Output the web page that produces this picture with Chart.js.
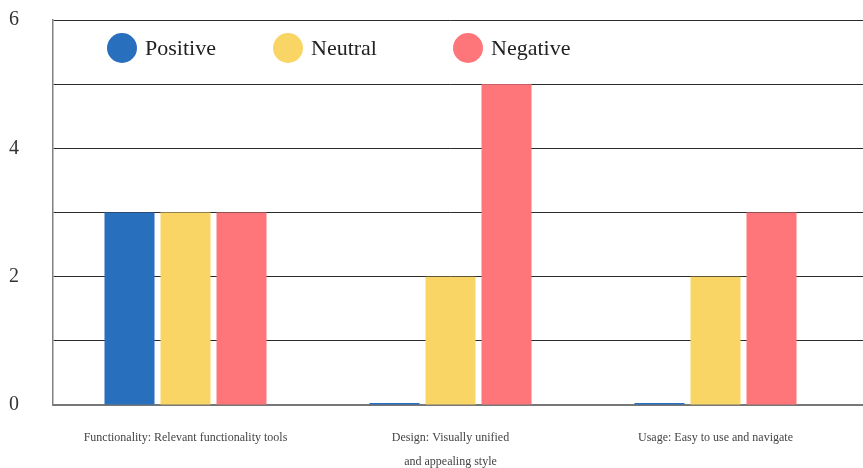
<!DOCTYPE html>
<html>
<head>
<meta charset="utf-8">
<title>Feedback chart</title>
<script src="https://cdn.jsdelivr.net/npm/chart.js@4.4.1/dist/chart.umd.min.js"></script>
<style>
    html, body { margin: 0; padding: 0; background: #fff; }
    #chart { display: block; }
</style>
</head>
<body>
<canvas id="chart" width="863" height="468"></canvas>
<script>
// Chart data
const categories = [
    'Functionality: Relevant functionality tools',
    ['Design: Visually unified', 'and appealing style'],
    'Usage: Easy to use and navigate'
];
const seriesNames = ['Positive', 'Neutral', 'Negative'];
const positive = [3, 0, 0];
const neutral = [3, 2, 2];
const negative = [3, 5, 3];
const yLabels = [0, 2, 4, 6];

const colors = ['#286fbe', '#f9d565', '#ff767a'];
const serif = '"Liberation Serif", "DejaVu Serif", serif';
const legendColumns = [54, 220, 400]; // offsets from the plot's left edge

// Legend drawn inside the plot, between the 6 and 5 lines
const legendInPlot = {
    id: 'legendInPlot',
    afterDraw(chart) {
        const { ctx, chartArea } = chart;
        const y = chartArea.top + 28;
        ctx.save();
        ctx.font = '22px ' + serif;
        ctx.textBaseline = 'middle';
        chart.data.datasets.forEach((ds, i) => {
            const x = chartArea.left + legendColumns[i];
            ctx.fillStyle = ds.backgroundColor;
            ctx.beginPath();
            ctx.arc(x + 15, y, 15, 0, Math.PI * 2);
            ctx.fill();
            ctx.fillStyle = '#222';
            ctx.fillText(ds.label, x + 38, y + 1);
        });
        ctx.restore();
    }
};

// Grid lines run on to the right edge of the picture
const gridToEdge = {
    id: 'gridToEdge',
    beforeDatasetsDraw(chart) {
        const { ctx, chartArea, scales } = chart;
        const y = scales.y;
        ctx.save();
        ctx.strokeStyle = '#2b2b2b';
        ctx.lineWidth = 1;
        y.ticks.forEach(t => {
            if (t.value === 0) return;
            const py = Math.round(y.getPixelForValue(t.value) - 0.5) + 0.5;
            ctx.beginPath();
            ctx.moveTo(chartArea.right, py);
            ctx.lineTo(chart.width, py);
            ctx.stroke();
        });
        ctx.beginPath();
        ctx.strokeStyle = '#777';
        ctx.lineWidth = 2;
        ctx.moveTo(chartArea.right, chartArea.bottom);
        ctx.lineTo(chart.width, chartArea.bottom);
        ctx.stroke();
        ctx.restore();
    }
};

const seriesData = [positive, neutral, negative];

new Chart(document.getElementById('chart'), {
    type: 'bar',
    data: {
        labels: categories,
        datasets: seriesNames.map((name, i) => ({
            label: name,
            data: seriesData[i],
            backgroundColor: colors[i],
            borderWidth: 0,
            minBarLength: 2,
            categoryPercentage: 0.634,
            barPercentage: 0.893
        }))
    },
    options: {
        responsive: false,
        animation: false,
        layout: { padding: { top: 20, right: 15, left: 9, bottom: 0 } },
        plugins: {
            tooltip: { enabled: false },
            legend: { display: false }
        },
        scales: {
            x: {
                grid: { display: false, drawTicks: false },
                border: { display: true, color: '#777', width: 2 },
                ticks: {
                    color: '#444',
                    padding: 21,
                    maxRotation: 0,
                    autoSkip: false,
                    font: { family: serif, size: 12, lineHeight: 2 }
                },
                afterFit(scale) { scale.height = 63; }
            },
            y: {
                min: 0,
                max: 6,
                grid: {
                    drawTicks: false,
                    color: ctx => ctx.tick && ctx.tick.value === 0 ? 'rgba(0,0,0,0)' : '#2b2b2b',
                    lineWidth: 1
                },
                border: { display: true, color: '#808080', width: 1.5 },
                ticks: {
                    stepSize: 1,
                    color: '#333',
                    padding: 0,
                    crossAlign: 'far',
                    font: { family: serif, size: 20 },
                    callback: v => yLabels.includes(v) ? v : ''
                },
                afterFit(scale) { scale.width = 44; }
            }
        }
    },
    plugins: [legendInPlot, gridToEdge]
});
</script>
</body>
</html>
